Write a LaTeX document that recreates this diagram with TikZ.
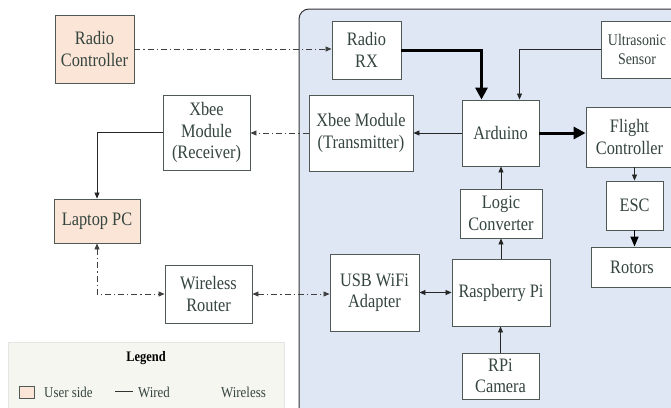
\documentclass[tikz,border=0pt]{standalone}
\usepackage{fontspec}
\setmainfont{Liberation Serif}[FakeStretch=0.86]
\usetikzlibrary{arrows.meta,calc}
\definecolor{txt}{HTML}{34443F}
\definecolor{bord}{HTML}{4F5A56}
\definecolor{peach}{HTML}{FBE5D6}
\definecolor{panel}{HTML}{DEE7F3}
\definecolor{legbg}{HTML}{F6F6F0}
\tikzset{
  box/.style={draw=bord, line width=0.9pt, fill=white, text=txt, align=center, inner sep=1pt, font=\fontsize{19}{21.5}\selectfont},
  user/.style={box, fill=peach},
  small/.style={font=\fontsize{16.2}{19.5}\selectfont},
  wire/.style={draw=black!85, line width=0.8pt, -{Triangle[length=6pt,width=5pt]}},
  wl/.style={draw=black!75, line width=0.8pt, dash pattern=on 6pt off 3pt on 1.2pt off 3pt, -{Triangle[length=6pt,width=5pt]}},
  bus/.style={draw=black, line width=3pt, -{Triangle[length=12pt,width=12pt]}},
}
\begin{document}
\begin{tikzpicture}[x=1pt,y=-1pt]
\useasboundingbox (0,0) rectangle (671,407);
\begin{scope}
\clip (0,0) rectangle (671,407);
\draw[fill=panel, draw=black!80, line width=1pt, rounded corners=10pt] (299,9) rectangle (700,430);
% user side
\node[user, minimum width=79pt, minimum height=68pt] (rc) at (94.5,49) {Radio\\Controller};
\node[box, minimum width=87pt, minimum height=75pt] (xr) at (206.5,132.5) {Xbee\\Module\\(Receiver)};
\node[user, minimum width=86pt, minimum height=44pt] (lp) at (97,221) {Laptop PC};
\node[box, minimum width=87pt, minimum height=58pt] (wr) at (208.5,294) {Wireless\\Router};
% drone side
\node[box, minimum width=69pt, minimum height=58pt] (rx) at (366.5,50) {Radio\\RX};
\node[box, small, minimum width=72pt, minimum height=57pt] (us) at (637,49.5) {Ultrasonic\\Sensor};
\node[box, minimum width=104pt, minimum height=76pt] (xt) at (361,133) {Xbee Module\\(Transmitter)};
\node[box, minimum width=77pt, minimum height=66pt] (ar) at (500.5,133) {Arduino};
\node[box, minimum width=87pt, minimum height=60pt] (fc) at (629.5,137) {Flight\\Controller};
\node[box, minimum width=57pt, minimum height=49pt] (esc) at (634.5,205.5) {ESC};
\node[box, minimum width=82pt, minimum height=40pt] (ro) at (632,267) {Rotors};
\node[box, minimum width=82pt, minimum height=49pt] (lc) at (501,213.5) {Logic\\Converter};
\node[box, minimum width=89pt, minimum height=77pt] (usb) at (374.5,292.5) {USB WiFi\\Adapter};
\node[box, minimum width=98pt, minimum height=67pt] (rp) at (501,292.5) {Raspberry Pi};
\node[box, minimum width=77pt, minimum height=46pt] (cam) at (500.5,376) {RPi\\Camera};
% connectors
\draw[wl] (rc.east) -- (rc.east -| rx.west);
\draw[bus] (rx.east) -| ($(ar.north)+(-19,0)$);
\draw[wire] (us.west) -| ($(ar.north)+(19,0)$);
\draw[wire] (ar.west) -- (ar.west -| xt.east);
\draw[wl] (xt.west) -- (xt.west -| xr.east);
\draw[wire] (xr.west) -| (lp.north);
\draw[wl, {Triangle[length=6pt,width=5pt]}-{Triangle[length=6pt,width=5pt]}] (lp.south) |- (wr.west);
\draw[wl, {Triangle[length=6pt,width=5pt]}-{Triangle[length=6pt,width=5pt]}] (wr.east) -- (wr.east -| usb.west);
\draw[wire, {Triangle[length=6pt,width=5pt]}-{Triangle[length=6pt,width=5pt]}] (usb.east) -- (rp.west);
\draw[wire] (rp.north) -- (lc.south);
\draw[wire] (lc.north) -- (lc.north |- ar.south);
\draw[wire] (cam.north) -- (cam.north |- rp.south);
\draw[bus] (ar.east) -- (ar.east -| fc.west);
\draw[wire] (esc.north |- fc.south) -- (esc.north);
\draw[draw=black, line width=1.6pt, -{Triangle[length=10pt,width=8pt]}] (esc.south) -- (esc.south |- ro.north);
% legend
\node[draw=black!10, fill=legbg, minimum width=276pt, minimum height=68pt, anchor=north west, inner sep=0pt] (leg) at (8,342) {};
\node[text=black, font=\fontsize{14.5}{16}\selectfont\bfseries] (legt) at (146,358) {Legend};
\node[draw=bord, fill=peach, line width=0.7pt, minimum width=15pt, minimum height=12pt, inner sep=0pt] (legsq) at (26.5,392) {};
\node[text=txt, font=\fontsize{15}{17}\selectfont, anchor=west, inner sep=0pt] (legu) at (44,392) {User side};
\coordinate (lw1) at (115,391);
\coordinate (lw2) at (133,391);
\draw[black!80, line width=0.9pt] (lw1) -- (lw2);
\node[text=txt, font=\fontsize{15}{17}\selectfont, anchor=west, inner sep=0pt] (legw) at (138,392) {Wired};
\node[text=txt, font=\fontsize{15}{17}\selectfont, anchor=west, inner sep=0pt] (legwl) at (221,392) {Wireless};
\end{scope}
\end{tikzpicture}
\end{document}
